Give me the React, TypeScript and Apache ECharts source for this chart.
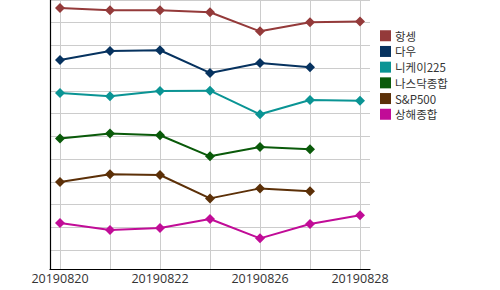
import React, { useEffect, useRef } from "react";
import * as echarts from "echarts";

const categories = ["20190820", "20190821", "20190822", "20190823", "20190826", "20190827", "20190828"];
const labelIndices = [0, 2, 4, 6];
const gridValues = [1, 2, 3, 4, 5, 6, 7, 8, 9, 10, 11, 12];

const seriesNames = ["항셍", "다우", "니케이225", "나스닥종합", "S&P500", "상해종합"];
const colors = ["#943a3a", "#06325f", "#0a9494", "#0a5a0a", "#5c3008", "#c10c97"];

const hangseng = [11.65, 11.55, 11.55, 11.46, 10.62, 11.02, 11.05];
const dow = [9.36, 9.76, 9.79, 8.79, 9.23, 9.04, null];
const nikkei = [7.91, 7.76, 8.0, 8.01, 6.97, 7.6, 7.57];
const nasdaq = [5.91, 6.13, 6.05, 5.12, 5.53, 5.43, null];
const sp500 = [3.99, 4.33, 4.3, 3.27, 3.71, 3.58, null];
const shanghai = [2.19, 1.88, 1.97, 2.36, 1.51, 2.14, 2.53];

const allValues = [hangseng, dow, nikkei, nasdaq, sp500, shanghai];

export default function App() {
  const ref = useRef<HTMLDivElement>(null);
  useEffect(() => {
    if (!ref.current) return;
    const chart = echarts.init(ref.current, null, { renderer: "svg" });
    const font = "'Open Sans', 'Noto Sans CJK KR', sans-serif";
    chart.setOption({
      animation: false,
      backgroundColor: "#ffffff",
      grid: { left: 50, right: 130, top: 0, bottom: 20.5, containLabel: false },
      legend: {
        orient: "vertical",
        left: 380,
        top: 30,
        padding: 0,
        itemWidth: 11,
        itemHeight: 11,
        itemGap: 4.2,
        icon: "rect",
        data: seriesNames,
        textStyle: { fontSize: 11.5, lineHeight: 11, color: "#333", fontFamily: "'Noto Sans CJK KR', sans-serif", padding: [0, 0, 0, -1] },
      },
      xAxis: {
        type: "value",
        min: -0.2,
        max: 6.2,
        axisLine: { show: true, onZero: false, lineStyle: { color: "#000", width: 1.2 } },
        axisTick: { show: false, customValues: [0, 1, 2, 3, 4, 5, 6] },
        splitLine: { show: true, lineStyle: { color: "#cccccc", width: 1 } },
        axisLabel: {
          customValues: labelIndices,
          formatter: (v: number) => categories[Math.round(v)] ?? "",
          fontSize: 12.5,
          color: "#333",
          fontFamily: font,
          margin: 3,
        },
      },
      yAxis: {
        type: "value",
        min: 0.14,
        max: 12,
        axisLine: { show: true, onZero: false, lineStyle: { color: "#000", width: 1.2 } },
        axisTick: { show: false, customValues: gridValues },
        axisLabel: { show: false },
        splitLine: { show: true, lineStyle: { color: "#cccccc", width: 1 } },
      },
      series: allValues.map((vals, si) => ({
        name: seriesNames[si],
        type: "line",
        data: vals.map((v, i) => (v === null ? [i, null] : [i, v])),
        color: colors[si],
        lineStyle: { width: 2, color: colors[si] },
        itemStyle: { color: colors[si] },
        symbol: "diamond",
        symbolSize: 10,
        showSymbol: true,
        connectNulls: false,
      })),
    });
    return () => chart.dispose();
  }, []);
  return <div ref={ref} style={{ position: "fixed", left: 0, top: 0, width: 500, height: 290 }} />;
}
